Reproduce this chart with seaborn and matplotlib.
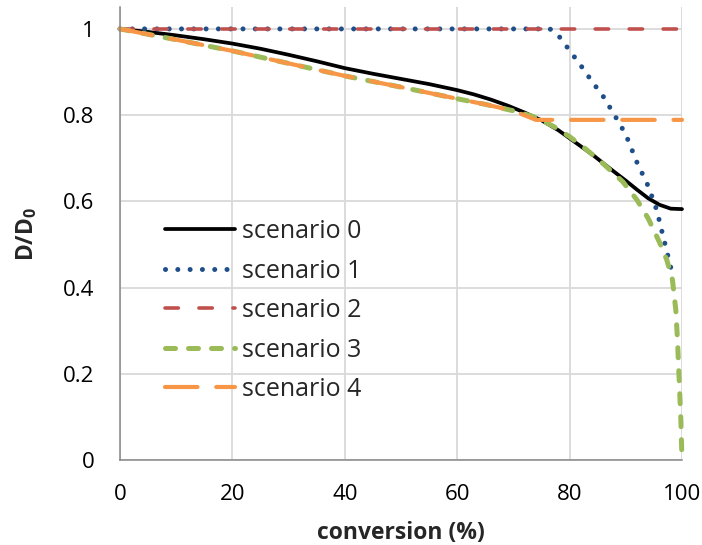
import numpy as np
import pandas as pd
import matplotlib
matplotlib.use("Agg")
import matplotlib.pyplot as plt
import seaborn as sns


# values
conv_s0 = [0, 5, 10, 15, 20, 25, 30, 35, 40, 45, 50, 55, 60, 63, 66, 69, 72,
           75, 78, 81, 84, 87, 90, 92, 94, 96, 98, 100]
ratio_s0 = [1.0, 0.993, 0.985, 0.976, 0.966, 0.954, 0.94, 0.925, 0.909, 0.896,
            0.884, 0.872, 0.858, 0.848, 0.836, 0.822, 0.806, 0.788, 0.765,
            0.737, 0.709, 0.678, 0.648, 0.627, 0.607, 0.592, 0.583, 0.582]

conv_s1 = [0, 76.5, 78, 80, 82, 84, 86, 88, 90, 92, 94, 95.5, 97, 98.5]
ratio_s1 = [1.0, 1.0, 0.985, 0.95, 0.915, 0.878, 0.843, 0.800, 0.755, 0.69,
            0.635, 0.58, 0.50, 0.42]

conv_s2 = [0, 100]
ratio_s2 = [1.0, 1.0]

conv_s3 = [0, 10, 20, 30, 40, 50, 60, 65, 70, 73.5, 77, 80, 83, 86, 89.5, 92,
           94, 96, 97.3, 98.3, 98.9, 99.2, 99.5, 99.8, 100]
ratio_s3 = [1.0, 0.975, 0.949, 0.92, 0.891, 0.865, 0.838, 0.825, 0.81, 0.797,
            0.775, 0.75, 0.72, 0.687, 0.645, 0.603, 0.56, 0.505, 0.464, 0.418,
            0.348, 0.278, 0.186, 0.093, 0.0]

conv_s4 = [0, 10, 20, 30, 40, 50, 60, 65, 70, 74, 100]
ratio_s4 = [1.0, 0.975, 0.949, 0.92, 0.891, 0.865, 0.838, 0.825, 0.81, 0.789, 0.789]

labels = ["scenario 0", "scenario 1", "scenario 2", "scenario 3", "scenario 4"]
x_ticks = [0, 20, 40, 60, 80, 100]
y_ticks = [0, 0.2, 0.4, 0.6, 0.8, 1]

STYLES = [
    dict(color="#000000", linewidth=2.7, linestyle="-"),
    dict(color="#1f4e89", linewidth=3.6, linestyle=(0, (0.01, 2.45)),
         dash_capstyle="round"),
    dict(color="#c0504d", linewidth=2.6, linestyle=(0, (3.7, 5.7)),
         dash_capstyle="round"),
    dict(color="#9bbb59", linewidth=3.6, linestyle=(0, (2.0, 2.6)),
         dash_capstyle="round"),
    dict(color="#f79646", linewidth=3.0, linestyle=(0, (7.8, 4.5)),
         dash_capstyle="round"),
]


def tick_label(v):
    return "0" if v == 0 else ("1" if v == 1 else f"{v:g}")


def main():
    sns.set_style("white")
    plt.rcParams["font.family"] = ["Open Sans", "DejaVu Sans"]
    plt.rcParams["mathtext.fontset"] = "custom"
    plt.rcParams["mathtext.rm"] = "Open Sans"
    plt.rcParams["mathtext.bf"] = "Open Sans:bold"

    fig = plt.figure(figsize=(7.02, 5.45), dpi=100)
    ax = fig.add_axes([0.1709, 0.156, 0.8006, 0.8305])

    series = [(conv_s0, ratio_s0), (conv_s1, ratio_s1), (conv_s2, ratio_s2),
              (conv_s3, ratio_s3), (conv_s4, ratio_s4)]

    for (xs, ys), name, st in zip(series, labels, STYLES):
        df = pd.DataFrame({"conversion": xs, "ratio": ys})
        sns.lineplot(data=df, x="conversion", y="ratio", ax=ax, label=name,
                     estimator=None, sort=False, clip_on=False, **st)

    ax.set_xlim(0, 100)
    ax.set_ylim(0, 1.05)
    ax.set_xticks(x_ticks)
    ax.set_yticks(y_ticks)
    ax.set_yticklabels([tick_label(v) for v in y_ticks])
    ax.grid(True, color="#d9d9d9", linewidth=1.3)
    ax.set_axisbelow(True)

    for side in ["top", "right"]:
        ax.spines[side].set_visible(False)
    for side in ["left", "bottom"]:
        ax.spines[side].set_color("#868686")
        ax.spines[side].set_linewidth(1.1)

    ax.tick_params(axis="both", direction="out", length=6.5, width=1.1,
                   color="#868686", labelsize=16, labelcolor="black")
    ax.tick_params(axis="y", pad=12)
    ax.tick_params(axis="x", pad=11)

    ax.set_xlabel("conversion (%)", fontsize=16.5, fontweight="bold", labelpad=11)
    ax.set_ylabel(r"$\mathbf{D/D_0}$", fontsize=16.5, labelpad=17)

    ax.legend(loc="upper left", bbox_to_anchor=(0.08, 0.532), frameon=False,
              fontsize=18, handlelength=2.8, handletextpad=0.28,
              labelspacing=0.58, borderpad=0, borderaxespad=0)

    fig.savefig("out.png", dpi=100)
    plt.close(fig)


if __name__ == "__main__":
    main()
